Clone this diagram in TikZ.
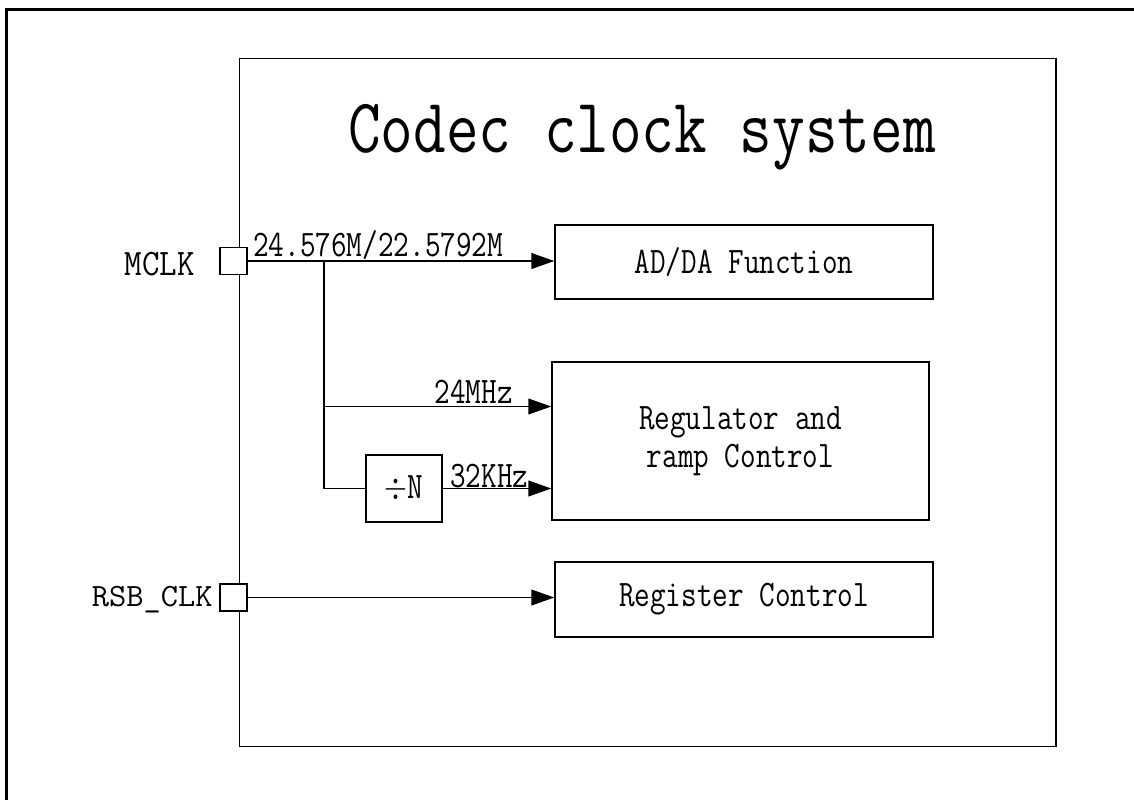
\documentclass[tikz,border=0pt]{standalone}
\usepackage{tikz}
\usepackage{xcolor}
\usetikzlibrary{arrows.meta,positioning,calc}
\definecolor{ink}{HTML}{000000}
\newcommand{\narrowtt}[2][0.81]{\scalebox{#1}[1]{#2}}
\tikzset{
  chipframe/.style={draw=ink,line width=1pt},
  blockbox/.style={draw=ink,fill=white,line width=0.9pt,
                   minimum width=7.56cm,minimum height=1.48cm,
                   align=center,inner sep=0pt,
                   font=\ttfamily\fontsize{21.3}{21.5}\selectfont},
  pinbox/.style={draw=ink,fill=white,line width=0.8pt,
                 minimum size=0.54cm,inner sep=0pt},
  divbox/.style={draw=ink,fill=white,line width=0.8pt,
                 minimum width=1.52cm,minimum height=1.34cm,inner sep=0pt,
                 font=\ttfamily\fontsize{21.3}{25}\selectfont},
  wire/.style={draw=ink,line width=0.7pt},
  sigarr/.style={wire,-{Triangle[length=13pt,width=9pt]}},
  lbl/.style={inner sep=0pt,font=\ttfamily\fontsize{21.3}{25}\selectfont}
}

\begin{document}
\begin{tikzpicture}[x=0.02cm,y=-0.02cm]
  \useasboundingbox (0,0) rectangle (1134,799);
  \draw[draw=ink,line width=1.3pt] (1140,9.5) -| (6.5,805);
  \draw[chipframe] (239.5,58.5) rectangle (1056,746.5);
  \node[lbl,anchor=base,font=\ttfamily\fontsize{44}{48}\selectfont] (title)
    at (642,152) {\narrowtt[0.82]{Codec clock system}};

  \node[pinbox] (mclk) at (233.5,261) {};
  \node[pinbox] (rsbclk) at (233.5,597.5) {};
  \node[lbl,anchor=base east] (mclklbl) at (195,275) {\narrowtt[0.91]{MCLK}};
  \node[lbl,anchor=base east,font=\ttfamily\fontsize{18.5}{22}\selectfont]
    (rsblbl) at (213,606) {\narrowtt[1.03]{RSB\_CLK}};

  \node[blockbox] (adda) at (744,262) {\narrowtt{AD/DA Function}};
  \node[blockbox,minimum width=7.54cm,minimum height=3.16cm] (reg)
    at (740.5,441) {\narrowtt{Regulator and}\\\narrowtt{ramp Control}};
  \node[blockbox,minimum height=1.5cm] (regctl) at (744,599.5)
    {\narrowtt{Register Control}};
  \node[divbox] (divn) at (404,488.5) {\narrowtt{$\div$N}};

  \coordinate (split) at (324,261);
  \coordinate (tapA) at (324,406.5);
  \coordinate (tapB) at (324,488.5);

  \draw[sigarr] (mclk.east) -- (mclk.east -| adda.west);
  \draw[wire] (split) -- (tapB) -- (divn.west);
  \draw[sigarr] (tapA) -- (tapA -| reg.west);
  \draw[sigarr] (divn.east) -- (divn.east -| reg.west);
  \draw[sigarr] (rsbclk.east) -- (rsbclk.east -| regctl.west);

  \node[lbl,anchor=base west] (mclkfreq) at (253,256)
    {\narrowtt{24.576M/22.5792M}};
  \node[lbl,anchor=base east] (freqA) at (513,403) {\narrowtt{24MHz}};
  \node[lbl,anchor=base west] (freqB) at (450,487) {\narrowtt{32KHz}};
\end{tikzpicture}
\end{document}
